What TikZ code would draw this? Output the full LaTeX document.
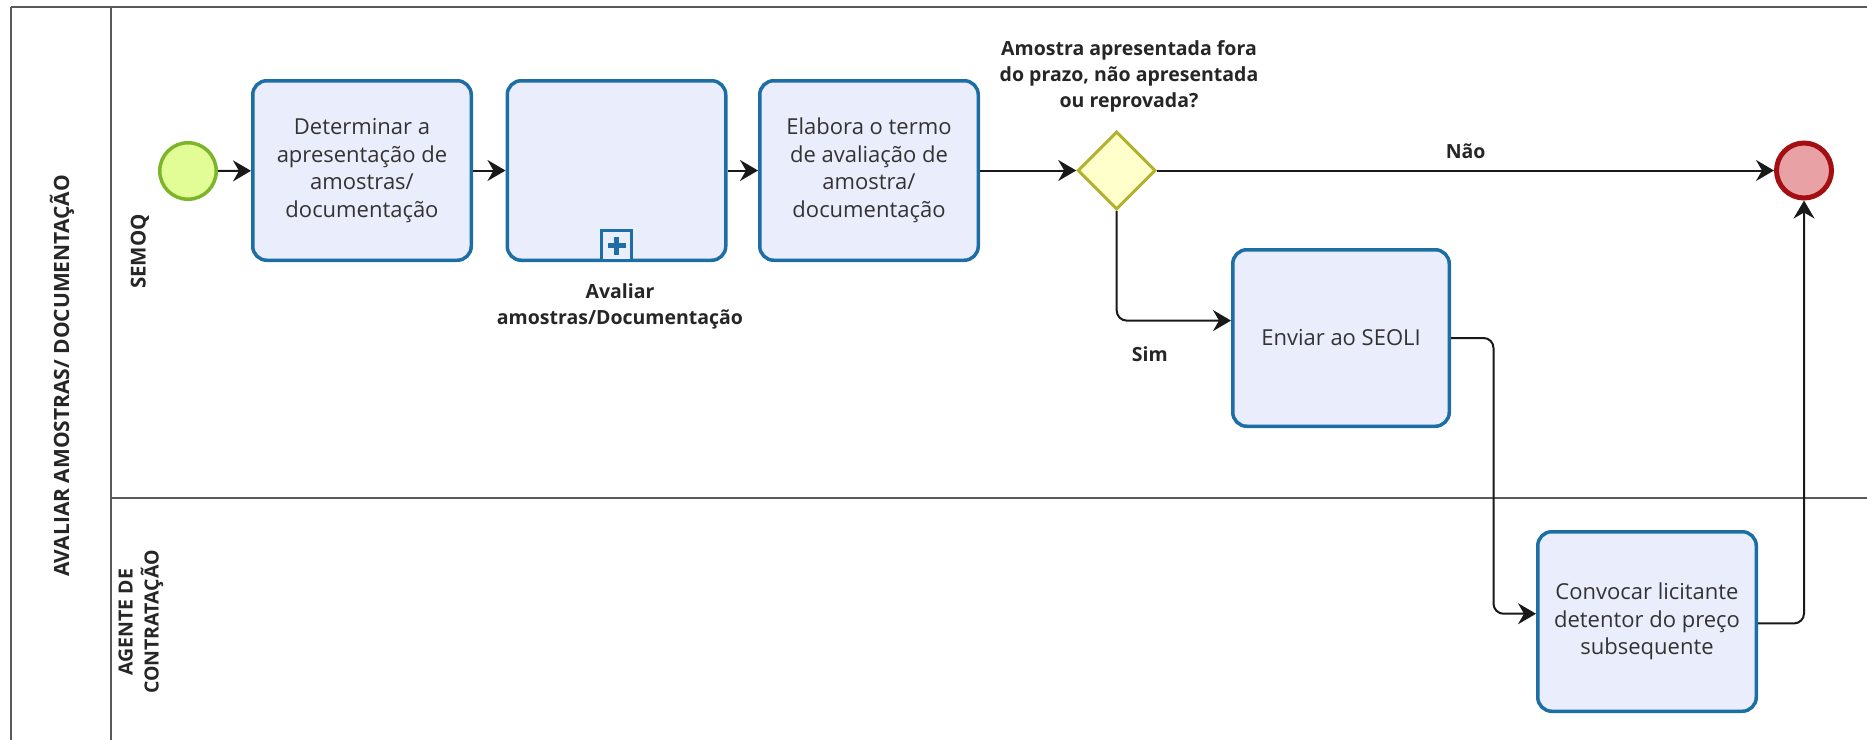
\documentclass[tikz,border=0pt]{standalone}
\usepackage{fontspec}
\setmainfont{Open Sans}
\usetikzlibrary{positioning,arrows.meta,calc,shapes}

\definecolor{taskfill}{HTML}{EAEEFC}
\definecolor{taskline}{HTML}{1C6EA4}
\definecolor{textgray}{HTML}{333333}
\definecolor{startfill}{HTML}{E2FC96}
\definecolor{startline}{HTML}{7DB52A}
\definecolor{gwfill}{HTML}{FFFFCC}
\definecolor{gwline}{HTML}{B2B22E}
\definecolor{endfill}{HTML}{E8A2A6}
\definecolor{endline}{HTML}{A30F12}
\definecolor{lanegray}{HTML}{5A5A5A}

\tikzset{
    task/.style = {
        draw=taskline,
        fill=taskfill,
        shape=rectangle,
        rounded corners=14pt,
        line width=3.5pt,
        minimum width=218.5pt,
        minimum height=179.5pt,
        align=center,
        text=textgray,
        font=\fontsize{22}{27.5}\selectfont
    },
    submarker/.style = {
        draw=taskline,
        fill=taskfill,
        shape=rectangle,
        line width=3pt,
        minimum size=30pt,
        inner sep=0pt
    },
    startevent/.style = {
        draw=startline,
        fill=startfill,
        shape=circle,
        line width=3.5pt,
        minimum size=56.5pt,
        inner sep=0pt
    },
    endevent/.style = {
        draw=endline,
        fill=endfill,
        shape=circle,
        line width=5pt,
        minimum size=55pt,
        inner sep=0pt
    },
    gateway/.style = {
        draw=gwline,
        fill=gwfill,
        shape=diamond,
        line width=3pt,
        minimum width=78pt,
        minimum height=78pt,
        inner sep=0pt
    },
    boldlabel/.style = {
        align=center,
        inner sep=0pt,
        text=black!85,
        font=\fontsize{19.5}{26}\selectfont\bfseries
    },
    lanelabel/.style = {
        boldlabel,
        rotate=90
    },
    poollabel/.style = {
        lanelabel,
        font=\fontsize{21}{26}\selectfont\bfseries
    },
    laneline/.style = {
        draw=lanegray,
        line width=2pt
    },
    flow/.style = {
        draw=black!90,
        line width=2pt,
        rounded corners=10pt
    },
    >={Stealth[length=18pt,width=21pt,inset=6pt]},
}

\begin{document}
\begin{tikzpicture}[x=1pt,y=-1pt]
            \useasboundingbox (0,0) rectangle (1867,739);

            % pool and lanes
            \path[laneline] (11,7) -- (1880,7);
            \path[laneline] (11,7) -- (11,760);
            \path[laneline] (111,7) -- (111,760);
            \path[laneline] (111,497.5) -- (1880,497.5);
            \node[poollabel] (pool) at (62,376) {AVALIAR AMOSTRAS/ DOCUMENTAÇÃO};
            \node[lanelabel, font=\fontsize{20.5}{26}\selectfont\bfseries] (semoq) at (140,251.5) {SEMOQ};
            \node[lanelabel] (agente) at (141,622) {AGENTE DE\\CONTRATAÇÃO};

            \node[startevent] (inicio) at (188,171) {};
            \node[task] (determinar) at (362,170.5) {Determinar a\\apresentação de\\amostras/\\documentação};
            \node[task] (avaliar) at (616.5,170.5) {};
            \node[submarker, anchor=south] (plus) at (avaliar.south) {};
            \path[draw=taskline, line width=4.5pt] ($(plus.center)+(-9,0)$) -- ($(plus.center)+(9,0)$);
            \path[draw=taskline, line width=4.5pt] ($(plus.center)+(0,-9)$) -- ($(plus.center)+(0,9)$);
            \node[boldlabel] (avaliartxt) at (620,306.5) {Avaliar\\amostras/Documentação};
            \node[task] (elabora) at (869,170.5) {Elabora o termo\\de avaliação de\\amostra/\\documentação};
            \node[gateway] (gw) at (1116.7,170.5) {};
            \node[boldlabel] (gwtxt) at (1129,76) {Amostra apresentada fora\\do prazo, não apresentada\\ou reprovada?};
            \node[endevent] (fim) at (1804,170.5) {};
            \node[task, minimum width=216.5pt, minimum height=176.5pt] (seoli) at (1341,338) {Enviar ao SEOLI};
            \node[task] (convocar) at (1647,621.5) {Convocar licitante\\detentor do preço\\subsequente};

            \path[flow, ->] (inicio) -- (determinar);
            \path[flow, ->] (determinar) -- (avaliar);
            \path[flow, ->] (avaliar) -- (elabora);
            \path[flow, ->] (elabora) -- (gw);
            \path[flow, ->] (gw) -- node[boldlabel, midway, above=11pt] {Não} (fim);
            \path[flow, ->] (gw.south) |- node[boldlabel, pos=0.645, below=25pt] {Sim} (seoli.171);
            \path[flow, ->] (seoli.east) -| ($(seoli.east)!0.5!(convocar.176)$) |- (convocar.176);
            \path[flow, ->] (convocar.359) -| (fim.south);

        \end{tikzpicture}
\end{document}
